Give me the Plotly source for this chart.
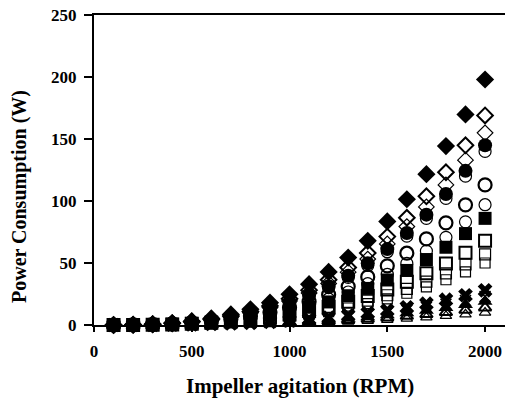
import plotly.graph_objects as go

rpm = [100, 200, 300, 400, 500, 600, 700, 800, 900, 1000,
       1100, 1200, 1300, 1400, 1500, 1600, 1700, 1800, 1900, 2000]

p_filled_diamond = [0.0, 0.2, 0.7, 1.6, 3.1, 5.3, 8.5, 12.7, 18.0, 24.8,
                    32.9, 42.8, 54.4, 67.9, 83.5, 101.4, 121.6, 144.3, 169.8, 198.0]
p_open_diamond = [0.0, 0.2, 0.6, 1.4, 2.6, 4.6, 7.2, 10.8, 15.4, 21.1,
                  28.1, 36.5, 46.4, 58.0, 71.3, 86.5, 103.8, 123.2, 144.9, 169.0]
p_dash_diamond = [0.0, 0.2, 0.5, 1.2, 2.4, 4.2, 6.6, 9.9, 14.1, 19.4,
                  25.8, 33.5, 42.6, 53.2, 65.4, 79.4, 95.2, 113.0, 132.9, 155.0]
p_filled_circle = [0.0, 0.1, 0.5, 1.2, 2.3, 3.9, 6.2, 9.3, 13.2, 18.1,
                   24.1, 31.3, 39.8, 49.7, 61.2, 74.2, 89.0, 105.7, 124.3, 145.0]
p_dot_circle = [0.0, 0.1, 0.5, 1.1, 2.2, 3.8, 6.0, 9.0, 12.8, 17.5,
                23.3, 30.2, 38.4, 48.0, 59.1, 71.7, 86.0, 102.1, 120.0, 140.0]
p_open_circle = [0.0, 0.1, 0.4, 0.9, 1.8, 3.1, 4.8, 7.2, 10.3, 14.1,
                 18.8, 24.4, 31.0, 38.8, 47.7, 57.9, 69.4, 82.4, 96.9, 113.0]
p_dash_circle = [0.0, 0.1, 0.3, 0.8, 1.5, 2.6, 4.2, 6.2, 8.8, 12.1,
                 16.1, 21.0, 26.6, 33.3, 40.9, 49.7, 59.6, 70.7, 83.2, 97.0]
p_filled_square = [0.0, 0.1, 0.3, 0.7, 1.3, 2.3, 3.7, 5.5, 7.8, 10.8,
                   14.3, 18.6, 23.6, 29.5, 36.3, 44.0, 52.8, 62.7, 73.7, 86.0]
p_open_square = [0.0, 0.1, 0.2, 0.5, 1.1, 1.8, 2.9, 4.4, 6.2, 8.5,
                 11.3, 14.7, 18.7, 23.3, 28.7, 34.8, 41.8, 49.6, 58.3, 68.0]
p_dash_square = [0.0, 0.1, 0.2, 0.5, 0.9, 1.5, 2.4, 3.6, 5.2, 7.1,
                 9.5, 12.3, 15.7, 19.6, 24.0, 29.2, 35.0, 41.6, 48.9, 57.0]
p_dot_square = [0.0, 0.1, 0.2, 0.4, 0.8, 1.4, 2.1, 3.2, 4.6, 6.3,
                8.3, 10.8, 13.7, 17.2, 21.1, 25.6, 30.7, 36.5, 42.9, 50.0]
p_x = [0.0, 0.0, 0.1, 0.2, 0.4, 0.8, 1.2, 1.8, 2.6, 3.5,
       4.7, 6.0, 7.7, 9.6, 11.8, 14.3, 17.2, 20.4, 24.0, 28.0]
p_dash_x = [0.0, 0.0, 0.1, 0.2, 0.4, 0.6, 1.0, 1.5, 2.1, 2.9,
            3.8, 5.0, 6.3, 7.9, 9.7, 11.8, 14.1, 16.8, 19.7, 23.0]
p_filled_tri = [0.0, 0.0, 0.1, 0.2, 0.3, 0.5, 0.8, 1.2, 1.7, 2.4,
                3.2, 4.1, 5.2, 6.5, 8.0, 9.7, 11.7, 13.9, 16.3, 19.0]
p_open_tri = [0.0, 0.0, 0.0, 0.1, 0.2, 0.4, 0.6, 0.9, 1.3, 1.8,
              2.3, 3.0, 3.8, 4.8, 5.9, 7.2, 8.6, 10.2, 12.0, 14.0]
p_dash_tri = [0.0, 0.0, 0.0, 0.1, 0.2, 0.3, 0.4, 0.6, 0.9, 1.3,
              1.7, 2.2, 2.7, 3.4, 4.2, 5.1, 6.1, 7.3, 8.6, 10.0]

x_ticks = [0, 500, 1000, 1500, 2000]
y_ticks = [0, 50, 100, 150, 200, 250]
x_title = "Impeller agitation (RPM)"
y_title = "Power Consumption (W)"

series = [
    (p_filled_diamond, "diamond", 14, 0),
    (p_open_diamond, "diamond-open", 12, 2),
    (p_dash_diamond, "diamond-open", 12, 1.2),
    (p_filled_circle, "circle", 14, 0),
    (p_dot_circle, "circle-open", 12, 1.2),
    (p_open_circle, "circle-open", 13, 2.2),
    (p_dash_circle, "circle-open", 12, 1.2),
    (p_filled_square, "square", 13, 0),
    (p_open_square, "square-open", 12, 2),
    (p_dash_square, "square-open", 11, 1.2),
    (p_dot_square, "square-open", 10, 1.2),
    (p_x, "x", 13, 0),
    (p_dash_x, "x-thin-open", 11, 1.5),
    (p_filled_tri, "triangle-up", 13, 0),
    (p_open_tri, "triangle-up-open", 11, 2),
    (p_dash_tri, "triangle-up-open", 10, 1.2),
]

fig = go.Figure()
for vals, sym, size, lw in series:
    fig.add_trace(go.Scatter(
        x=rpm, y=vals, mode="markers",
        marker=dict(symbol=sym, size=size, color="black",
                    line=dict(color="black", width=lw)),
        showlegend=False, cliponaxis=False, hoverinfo="skip",
    ))

font_family = "Liberation Serif, Times New Roman, serif"
tick_font = dict(family=font_family, size=17, color="black", weight="bold")
x_title_font = dict(family=font_family, size=21, color="black", weight="bold")
y_title_font = dict(family=font_family, size=20, color="black", weight="bold")

fig.update_layout(
    width=505, height=401,
    margin=dict(l=94, r=0, t=15, b=76),
    paper_bgcolor="white", plot_bgcolor="white",
    font=dict(family=font_family, color="black", size=15),
    xaxis=dict(
        range=[0, 2102], tickvals=x_ticks, ticktext=[str(v) for v in x_ticks],
        showgrid=False, zeroline=False, showline=True, linecolor="black",
        linewidth=2, mirror=True, ticks="outside", ticklen=5, tickwidth=1.5,
        tickcolor="black", tickfont=tick_font, automargin=False,
        ticklabelstandoff=5,
    ),
    yaxis=dict(
        range=[0, 250], tickvals=y_ticks, ticktext=[str(v) for v in y_ticks],
        showgrid=False, zeroline=False, showline=True, linecolor="black",
        linewidth=2, ticks="outside", ticklen=8, tickwidth=1.5,
        tickcolor="black", tickfont=tick_font, automargin=False,
        ticklabelstandoff=4,
    ),
    annotations=[
        dict(text=x_title, xref="paper", yref="paper", x=(300 - 94) / 411,
             y=-(386 - 325) / 310, xanchor="center", yanchor="middle",
             showarrow=False, font=x_title_font),
        dict(text=y_title, xref="paper", yref="paper", x=-(94 - 19) / 411,
             y=(325 - 197) / 310, xanchor="center", yanchor="middle",
             showarrow=False, font=y_title_font, textangle=-90),
    ],
)

fig.write_html(
    "out.html",
    config={"displayModeBar": False},
    post_script="document.body.style.margin='0';document.body.style.overflow='hidden';",
)
